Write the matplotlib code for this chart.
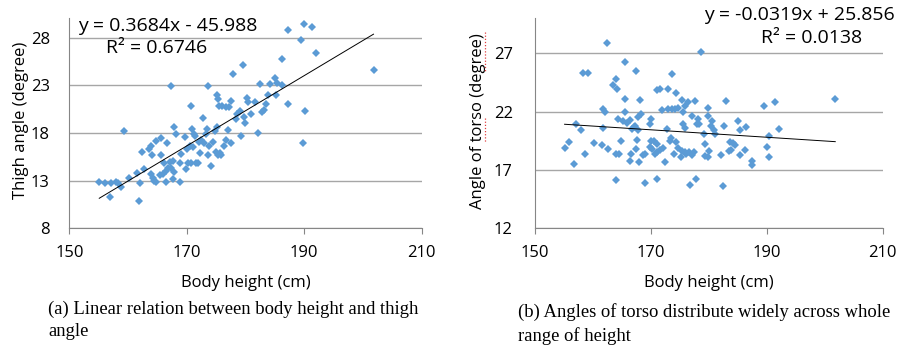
import matplotlib.pyplot as plt
from matplotlib.lines import Line2D

# (a) body height vs thigh angle
height_a = [155.1, 156.0, 156.9, 157.1, 158.0, 158.3, 158.8, 159.3, 160.2, 161.6,
            161.9, 162.0, 162.4, 162.7, 163.6, 163.9, 164.0, 163.9, 164.2, 164.5,
            164.8, 164.7, 165.4, 165.7, 165.6, 165.9, 166.1, 166.4, 166.6, 166.5,
            166.8, 167.2, 167.4, 167.3, 167.6, 167.7, 167.8, 167.9, 168.1, 168.8,
            168.9, 169.1, 169.7, 169.8, 170.0, 170.2, 170.5, 170.7, 170.8, 170.9,
            171.0, 171.2, 171.4, 171.6, 171.9, 172.1, 172.2, 172.5, 172.8, 172.9,
            173.3, 173.5, 173.6, 173.7, 173.8, 174.2, 174.4, 174.8, 175.0, 175.1,
            175.2, 175.3, 175.4, 175.5, 175.7, 175.8, 176.0, 176.3, 176.6, 176.7,
            177.0, 177.2, 177.5, 177.6, 177.8, 178.4, 178.6, 179.1, 179.3, 179.6,
            179.8, 179.9, 180.2, 180.4, 180.9, 181.6, 182.1, 182.4, 182.8, 183.1,
            183.5, 183.8, 184.2, 185.0, 185.2, 185.3, 186.2, 186.3, 187.2, 187.3,
            189.4, 189.8, 190.0, 190.2, 191.4, 192.0, 201.8]
thigh = [12.9, 12.8, 11.3, 12.7, 12.9, 12.8, 12.3, 18.2, 13.3, 13.8,
         10.9, 12.8, 16.0, 14.2, 16.3, 16.6, 15.7, 13.7, 13.3, 13.0,
         12.9, 17.2, 13.6, 17.5, 15.7, 13.7, 14.9, 14.0, 16.9, 12.9,
         14.3, 15.0, 22.9, 14.3, 13.2, 15.1, 13.9, 18.6, 17.9, 12.9,
         14.9, 15.8, 17.6, 14.2, 16.3, 14.8, 16.6, 14.9, 20.8, 18.4,
         16.5, 17.9, 17.7, 14.9, 14.9, 17.0, 15.9, 17.3, 19.6, 16.9,
         17.9, 18.4, 22.9, 15.7, 16.6, 14.5, 17.0, 18.2, 16.0, 18.6,
         22.0, 21.6, 15.7, 20.8, 15.9, 15.7, 20.8, 16.6, 20.7, 17.3,
         18.3, 20.7, 21.3, 16.9, 24.2, 19.5, 20.0, 20.3, 17.7, 25.1,
         19.7, 19.0, 21.7, 21.2, 20.0, 21.2, 18.0, 23.1, 20.2, 20.4,
         21.0, 22.0, 23.1, 23.8, 22.0, 23.2, 25.8, 23.0, 21.0, 28.8,
         27.7, 16.9, 29.4, 20.3, 29.1, 26.4, 24.6]
slope_a, icpt_a = 0.3684, -45.988

# (b) body height vs torso angle
height_b = [155.1, 155.9, 156.8, 157.1, 157.9, 158.3, 158.7, 159.1, 160.1, 161.6,
            161.7, 161.8, 162.1, 162.4, 162.6, 163.4, 163.9, 163.9, 163.9, 164.2,
            164.3, 164.5, 164.9, 165.1, 165.6, 165.6, 165.6, 165.8, 166.3, 166.6,
            166.4, 166.7, 167.0, 167.2, 167.4, 167.4, 167.6, 167.7, 167.8, 168.0,
            168.1, 168.2, 168.6, 168.9, 169.0, 169.8, 169.8, 170.0, 170.0, 170.2,
            170.5, 170.7, 171.0, 171.0, 171.1, 171.1, 171.6, 171.6, 171.9, 172.0,
            172.5, 172.8, 172.9, 173.0, 173.2, 173.4, 173.6, 173.6, 174.0, 174.2,
            174.4, 174.4, 174.6, 174.6, 175.1, 175.3, 175.4, 175.5, 175.6, 175.8,
            175.9, 175.9, 176.1, 176.4, 176.6, 176.7, 177.0, 177.0, 177.5, 177.6,
            177.8, 177.9, 178.1, 178.3, 178.7, 179.2, 179.3, 179.4, 179.8, 179.9,
            179.9, 180.1, 180.3, 180.5, 180.8, 181.1, 182.0, 182.4, 182.6, 182.9,
            183.4, 183.6, 183.8, 184.2, 184.5, 185.1, 185.3, 185.4, 186.3, 186.4,
            187.4, 187.4, 189.5, 190.0, 190.3, 190.4, 191.4, 192.1, 201.8]
torso = [18.9, 19.4, 17.5, 20.9, 20.4, 25.3, 18.4, 25.3, 19.3, 19.1,
         20.6, 22.2, 22.0, 27.9, 18.8, 24.3, 24.8, 16.1, 18.4, 23.9,
         21.4, 18.4, 19.5, 21.2, 26.2, 23.1, 22.0, 21.0, 21.3, 18.4,
         17.8, 20.5, 20.7, 20.8, 25.5, 18.8, 19.6, 20.4, 21.5, 17.7,
         23.0, 21.8, 18.3, 18.4, 15.9, 19.0, 20.9, 21.4, 19.5, 18.8,
         19.5, 18.4, 23.8, 19.2, 16.2, 18.5, 23.9, 18.7, 22.1, 18.9,
         17.7, 20.5, 22.2, 23.9, 19.5, 19.7, 25.2, 22.2, 18.4, 22.2,
         23.6, 19.4, 22.3, 18.9, 18.1, 23.0, 18.6, 22.0, 20.9, 20.6,
         18.5, 22.5, 18.4, 22.8, 18.5, 15.7, 21.6, 18.3, 18.5, 22.9,
         16.2, 20.9, 21.4, 20.9, 27.1, 20.1, 19.2, 18.2, 22.3, 21.6,
         18.1, 18.6, 20.8, 21.2, 20.4, 20.1, 18.3, 15.6, 20.8, 22.9,
         18.6, 19.4, 18.7, 19.3, 19.1, 21.2, 18.3, 20.4, 18.7, 20.7,
         17.8, 17.4, 22.5, 19.0, 19.9, 18.1, 22.8, 20.5, 23.1]
slope_b, icpt_b = -0.0319, 25.856

x_ticks = [150, 170, 190, 210]
yticks_a = [8, 13, 18, 23, 28]
yticks_b = [12, 17, 22, 27]

blue = '#5b9bd5'
grid_c = '#a6a6a6'
font = 'Open Sans'
W, H = 907, 347

fig = plt.figure(figsize=(9.07, 3.47), dpi=100)
ax1 = fig.add_axes([0.0764, 0.342, 0.3885, 0.6075])
ax2 = fig.add_axes([0.5899, 0.342, 0.3834, 0.606])


def style(ax, ylim, yticks, ylabel, ypad, lab_x):
    ax.set_xlim(150, 210)
    ax.set_ylim(*ylim)
    ax.set_xticks(x_ticks)
    ax.set_yticks(yticks)
    ax.yaxis.grid(True, color=grid_c, lw=1)
    ax.set_axisbelow(True)
    for s in ['top', 'right']:
        ax.spines[s].set_visible(False)
    for s in ['left', 'bottom']:
        ax.spines[s].set_color('#868686')
        ax.spines[s].set_linewidth(0.8)
    ax.tick_params(axis='x', length=4, color='#868686', labelsize=12, pad=8)
    ax.tick_params(axis='y', length=0, labelsize=12, pad=ypad)
    for lab in ax.get_xticklabels() + ax.get_yticklabels():
        lab.set_family(font)
    ax.set_xlabel('Body height (cm)', family=font, fontsize=12, labelpad=10)
    ax.set_ylabel(ylabel, family=font, fontsize=12)
    ax.yaxis.set_label_coords(lab_x, 0.512)


ax1.plot(height_a, thigh, 'D', color=blue, ms=4.3, mew=0)
xa = [min(height_a), max(height_a)]
ax1.plot(xa, [slope_a * v + icpt_a for v in xa], color='black', lw=0.7)
style(ax1, (8, 30.1), yticks_a, 'Thigh angle (degree)', 14, -0.114)
fig.text(78 / W, 1 - 26 / H, 'y = 0.3684x - 45.988', family=font, fontsize=14,
         ha='left', va='center')
fig.text(156.5 / W, 1 - 48 / H, 'R² = 0.6746', family=font, fontsize=14,
         ha='center', va='center')

ax2.plot(height_b, torso, 'D', color=blue, ms=4.3, mew=0)
xb = [min(height_b), max(height_b)]
ax2.plot(xb, [slope_b * v + icpt_b for v in xb], color='black', lw=0.7)
style(ax2, (12, 30), yticks_b, 'Angle of torso (degree)', 16, -0.141)
fig.text(895 / W, 1 - 15 / H, 'y = -0.0319x + 25.856', family=font, fontsize=14,
         ha='right', va='center')
fig.text(812 / W, 1 - 38 / H, 'R² = 0.0138', family=font, fontsize=14,
         ha='center', va='center')

# red spell-check marks under "degree" and "torso"
for y0, y1 in [(32, 72), (118, 143)]:
    fig.add_artist(Line2D([485 / W, 485 / W], [1 - y0 / H, 1 - y1 / H],
                          color='#e04040', lw=0.9, ls=(0, (1, 1.5))))

fig.text(48 / W, 1 - 320.5 / H, '(a) Linear relation between body height and thigh\nangle',
         family='Liberation Serif', fontsize=13.4, linespacing=1.4, va='center')
fig.text(518 / W, 1 - 324 / H, '(b) Angles of torso distribute widely across whole\nrange of height',
         family='Liberation Serif', fontsize=13.4, linespacing=1.4, va='center')

fig.savefig('out.png', dpi=100)
